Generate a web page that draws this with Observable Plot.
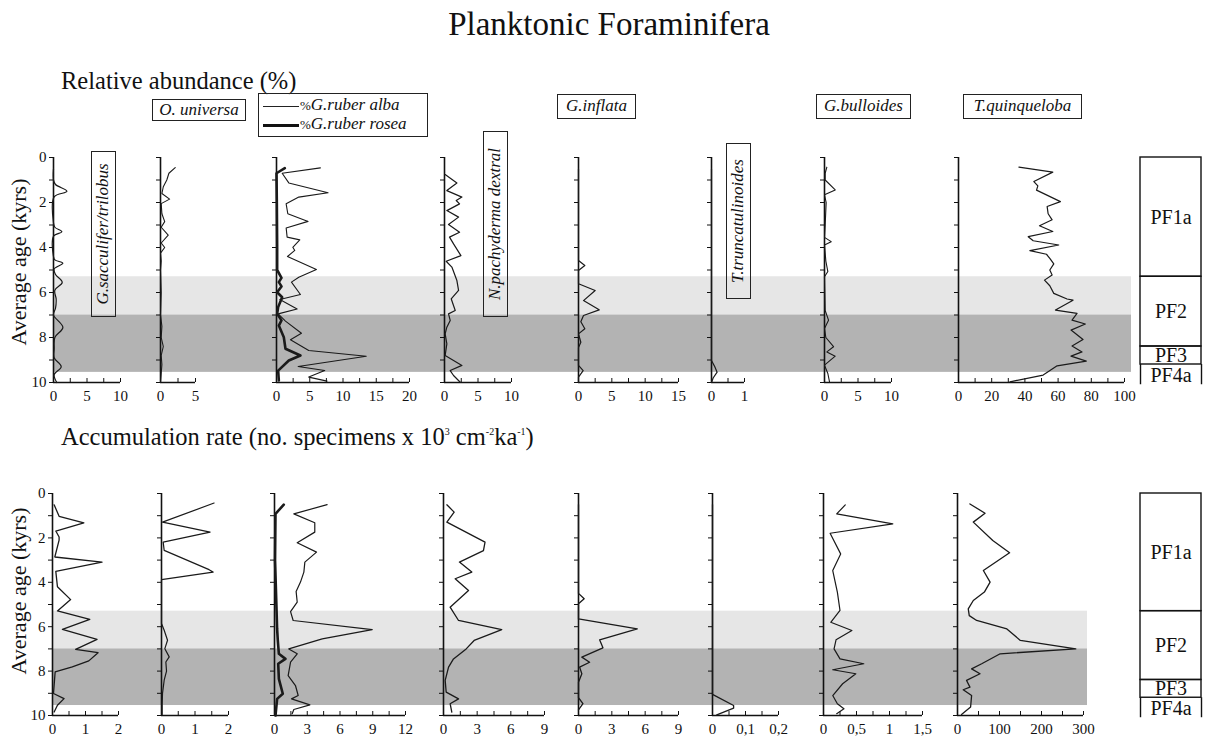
<!DOCTYPE html>
<html><head><meta charset="utf-8">
<script src="https://cdn.jsdelivr.net/npm/d3@7"></script>
<script src="https://cdn.jsdelivr.net/npm/@observablehq/plot@0.6"></script>
<style>
body{margin:0;background:#fff;}
#root{position:relative;width:1208px;height:738px;overflow:hidden;font-family:"Liberation Serif","Times New Roman",Times,Tinos,"DejaVu Serif","Noto Serif",FreeSerif,serif;color:#111;}
.t{position:absolute;white-space:nowrap;}
.box{position:absolute;border:1.3px solid #222;font-style:italic;font-size:17px;white-space:nowrap;box-sizing:border-box;text-align:center;}
.rot{transform-origin:left top;transform:rotate(-90deg);}
sup{font-size:10px;vertical-align:10px;line-height:0;}
</style></head><body><div id="root"></div><script>
// ---------- data: relative abundance (%) ----------
const sacRelAge = [0.5,1.0,1.2,1.5,1.75,2.9,3.1,3.3,3.5,4.4,4.55,4.7,4.95,5.2,5.55,5.9,6.3,6.7,7.0,7.55,8.0,8.5,8.9,9.3,9.65,10];
const sacRelVal = [0,0,0.3,2.0,0.1,0,0.2,1.25,0,0,0.2,1.4,0.1,0.3,1.3,0.2,0.4,0.3,0,1.4,0.2,0.1,0.1,1.15,0.1,0.5];
const uniRelAge = [0.45,0.7,1.0,1.3,1.6,1.85,2.05,2.5,2.85,3.1,3.45,3.8,4.0,4.25,4.6,5,6,7,7.5,8,8.4,8.8,9.2,9.6,10];
const uniRelVal = [2.1,1.2,0.9,0.4,0.2,1.3,0.1,0.2,0.6,0.1,1.1,0.1,0.6,0,0.1,0,0.1,0,0.2,0.1,0.4,0.1,0.2,0.1,0];
const albaRelAge = [0.46,0.70,1.13,1.57,1.76,2.06,2.50,2.84,3.13,3.54,3.66,3.99,4.13,4.40,4.98,5.32,5.54,6.09,6.31,6.73,6.95,7.27,7.81,8.10,8.58,8.83,9.29,9.47,9.76,9.94];
const albaRelVal = [6.6,0.85,1.85,7.75,3.35,1.45,1.7,4.75,1.45,1.6,3.5,2.45,2.75,1.65,6.0,3.35,2.25,3.6,0.5,3.1,0.25,1.35,3.75,2.1,4.85,13.5,3.25,7.25,4.85,7.6];
const roseaRelAge = [0.47,0.70,2,4,5.0,5.35,5.54,5.73,5.99,6.21,6.65,6.95,7.24,7.47,7.99,8.5,8.8,9.02,9.47,9.91];
const roseaRelVal = [1.25,0,0.05,0.1,0.1,0.75,0.35,0.75,0.1,0.85,0.25,0.1,0.75,0.35,1.1,1.35,3.6,1.85,0.25,0.35];
const pachyRelAge = [0.76,1.13,1.47,1.76,1.91,2.06,2.36,2.65,2.98,3.32,3.54,3.84,4.36,4.61,4.87,5.47,5.91,6.28,6.8,6.95,7.24,7.54,7.84,8.28,8.8,9.24,9.47,9.69,9.99];
const pachyRelVal = [0.1,1.85,0.35,2.6,1.75,2.25,0.35,2.1,0.6,2.25,0.75,1.35,2.45,0.25,1.1,1.85,2.1,1.0,1.6,0.6,0.85,0.35,0.1,0.35,0.1,2.6,0.85,1.35,2.35];
const inflRelAge = [0.5,4.58,4.8,5.02,5.61,5.91,6.36,6.77,7.02,7.3,7.61,7.84,8.21,8.45,9.24,9.47,9.76,10];
const inflRelVal = [0,0,0.95,0,0,2.5,0.75,3.1,0.75,0.35,0.95,0,0.35,0,0,0.7,0,0];
const truncRelAge = [0.5,9.02,9.3,9.54,9.8,10];
const truncRelVal = [0,0,0.1,0.17,0.05,0];
const bullRelAge = [0.43,0.7,1.0,1.44,1.66,2.0,3.0,3.55,3.74,3.89,4.6,5.07,5.3,6.8,7.23,7.6,8.0,8.41,8.64,8.83,9.23,9.6,9.97];
const bullRelVal = [0.35,0.1,0.1,1.6,0,0.25,0.1,0,1.0,0,0.2,0.5,0,0.1,0.6,0,0.2,1.35,0.35,1.6,0,0.5,0.75];
const quinRelAge = [0.43,0.65,1.07,1.26,1.45,1.96,2.18,2.5,2.77,3.03,3.29,3.52,3.7,3.89,4.14,4.3,4.48,4.73,5.0,5.22,5.45,5.7,6.04,6.29,6.34,6.78,6.93,7.23,7.40,7.67,8.09,8.38,8.64,8.83,9.05,9.26,9.67,9.97];
const quinRelVal = [36.4,56.8,45.4,47.8,47,61.4,53.4,54,56.4,48.8,56.8,42,45,60.4,43,53,55,57.4,55,56.4,51.8,55,57.4,65.4,69,58.4,71.4,68.4,76.4,67.8,75,68.4,74.4,67.8,77,59.4,51,31];

// ---------- data: accumulation rate ----------
const sacAccAge = [0.51,1.03,1.32,1.69,1.96,2.1,2.86,3.09,3.51,4.2,4.78,5.29,5.67,6.12,6.57,7.02,7.17,7.54,7.81,8.04,9.01,9.24,9.54,9.84];
const sacAccVal = [0.05,0.2,0.95,0.1,0.2,0.2,0.07,1.5,0.1,0.15,0.55,0.15,1.13,0.3,1.35,0.7,1.38,1.1,0.6,0.08,0.03,0.35,0.15,0.05];
const uniAccAge = [0.43,1.29,1.74,2.19,2.56,3.43,3.54,3.88,5.86,6.16,6.61,6.99,7.36,7.59,8.0,8.41,9.01,9.5,9.95];
const uniAccVal = [1.57,0.03,1.45,0.05,0.08,1.42,1.54,0,0,0.08,0.18,0.1,0.23,0.13,0.15,0.08,0.03,0.02,0.02];
const albaAccAge = [0.50,0.92,1.32,1.74,2.22,2.64,3.09,3.54,3.99,4.41,4.89,5.32,5.72,6.13,6.55,7.0,7.22,7.6,8.2,8.65,9.1,9.25,9.52,9.73,9.92];
const albaAccVal = [4.82,1.77,3.69,3.69,2.08,3.85,2.78,2.69,2.38,1.98,2.08,1.47,1.71,8.95,4.37,1.31,2.08,1.47,1.25,1.92,2.17,1.56,3.24,1.77,1.62];
const roseaAccAge = [0.5,0.92,3,6.1,6.6,7.22,7.45,7.67,8.35,9.02,9.25,10];
const roseaAccVal = [0.85,0.09,0.05,0.24,0.3,0.4,1.0,0.34,0.4,0.76,0.24,0.09];
const pachyAccAge = [0.51,0.84,1.29,2.19,2.57,3.09,3.54,3.84,4.37,5.12,5.72,6.13,6.62,7.0,7.45,7.82,8.42,8.95,9.25,9.47,9.85];
const pachyAccVal = [0.3,0.95,0.3,3.7,3.56,1.42,2.52,1.04,2.23,0.59,1.34,5.19,2.73,2.02,0.89,0.45,0.15,0.24,1.34,0.59,0.74];
const inflAccAge = [0.5,4.5,4.74,4.97,5.65,6.1,6.59,6.95,7.37,7.6,7.82,8.12,8.5,9.2,9.47,9.75];
const inflAccVal = [0,0,0.51,0,0,5.29,1.9,2.2,0.3,1.0,0.1,0.3,0,0,0.4,0];
const truncAccAge = [0.5,9.05,9.55,9.67,9.97];
const truncAccVal = [0,0,0.064,0.064,0.013];
const bullAccAge = [0.51,0.92,1.37,1.79,2.72,3.47,4.44,5.27,5.8,6.17,6.59,7.0,7.45,7.67,7.94,8.12,8.57,9.1,9.47,9.7,9.92];
const bullAccVal = [0.33,0.2,1.05,0.1,0.26,0.14,0.21,0.25,0.11,0.43,0.19,0.16,0.25,0.61,0.14,0.49,0.29,0.14,0.21,0.31,0.2];
const quinAccAge = [0.47,0.89,1.29,2.12,2.67,3.47,3.99,4.44,4.82,5.2,5.5,5.72,6.1,6.62,7.0,7.22,7.67,7.9,8.12,8.42,8.72,8.84,9.1,9.62,9.95];
const quinAccVal = [29.6,65.6,37.6,84,124,61.6,77.6,64,37.6,25.6,28,45.6,117.6,149.6,281.6,101.6,57.6,33.6,53.6,21.6,29.6,13.6,33.6,31.2,9.6];

// ---------- axes ----------
const relDomains = [[0,10],[0,5],[0,20],[0,10],[0,15],[0,1],[0,10],[0,100]];
const relTickLabels = [[0,5,10],[0,5],[0,5,10,15,20],[0,5,10],[0,5,10,15],[0,1],[0,5,10],[0,20,40,60,80,100]];
const relMinorStep = [2.5,2.5,2.5,2.5,2.5,0.5,2.5,10];
const accDomains = [[0,2],[0,2],[0,12],[0,9],[0,9],[0,0.2],[0,1.5],[0,300]];
const accTickLabels = [[0,1,2],[0,1,2],[0,3,6,9,12],[0,3,6,9],[0,3,6,9],[0,0.1,0.2],[0,0.5,1,1.5],[0,100,200,300]];
const accMinorStep = [0.5,0.5,1.5,1.5,1.5,0.05,0.25,50];
const ageTicks = [0,1,2,3,4,5,6,7,8,9,10];
const ageLabels = [0,2,4,6,8,10];

// ---------- shaded intervals and zones ----------
const bandFrom = [5.3, 7.0];
const bandTo = [7.0, 9.55];
const bandFill = ["#e6e6e6", "#b3b3b3"];
const zoneNames = ["PF1a","PF2","PF3","PF4a"];
const zoneFrom = [0, 5.3, 8.4, 9.2];
const zoneTo = [5.3, 8.4, 9.2, 10.1];

// ---------- layout ----------
const FONT = '"Liberation Serif","Times New Roman",Times,Tinos,"DejaVu Serif","Noto Serif",FreeSerif,serif';
const root = document.getElementById("root");
const rows = [
  {top:147, yLen:225, bandW:1078, x0:[53,160,276,444,578,711,824,958], len:[67,35,133,67,100,33,67,166],
   domains:relDomains, labels:relTickLabels, steps:relMinorStep,
   series:[[[sacRelAge,sacRelVal,1.2,"catmull-rom"]],[[uniRelAge,uniRelVal,1.1,"linear"]],
           [[albaRelAge,albaRelVal,1.1,"linear"],[roseaRelAge,roseaRelVal,2.6,"linear"]],
           [[pachyRelAge,pachyRelVal,1.2,"linear"]],[[inflRelAge,inflRelVal,1.2,"linear"]],
           [[truncRelAge,truncRelVal,1.2,"linear"]],[[bullRelAge,bullRelVal,1.1,"linear"]],[[quinRelAge,quinRelVal,1.2,"linear"]]]},
  {top:483, yLen:222, bandW:1035, x0:[52,161,274,443,578,712,823,957], len:[66,67,131,101,100,66,99,126],
   domains:accDomains, labels:accTickLabels, steps:accMinorStep,
   series:[[[sacAccAge,sacAccVal,1.3,"linear"]],[[uniAccAge,uniAccVal,1.2,"linear"]],
           [[albaAccAge,albaAccVal,1.2,"linear"],[roseaAccAge,roseaAccVal,2.6,"linear"]],
           [[pachyAccAge,pachyAccVal,1.3,"linear"]],[[inflAccAge,inflAccVal,1.3,"linear"]],
           [[truncAccAge,truncAccVal,1.3,"linear"]],[[bullAccAge,bullAccVal,1.2,"linear"]],[[quinAccAge,quinAccVal,1.3,"linear"]]]}
];
const MT = 10, MB = 30;
const fmt = d => String(+d.toFixed(4)).replace(".", ",");
const place = (el, left, top) => { el.style.position = "absolute"; el.style.left = left + "px"; el.style.top = top + "px"; root.append(el); };

for (const row of rows) {
  // shaded bands
  const bands = bandFrom.map((f, i) => ({from: f, to: bandTo[i], fill: bandFill[i]}));
  place(Plot.plot({
    width: row.bandW, height: MT + row.yLen + MB, margin: 0, marginTop: MT, marginBottom: MB,
    style: {background: "transparent"},
    x: {domain: [0, 1], axis: null}, y: {domain: [0, 10], reverse: true, axis: null},
    color: {type: "identity"},
    marks: [Plot.rect(bands, {x1: 0, x2: 1, y1: "from", y2: "to", fill: "fill"})]
  }), row.x0[0], row.top);

  // panels
  row.x0.forEach((x0, p) => {
    const first = p === 0;
    const mL = first ? 50 : 10, mR = 16;
    const dom = row.domains[p], step = row.steps[p];
    const ticks = d3.range(0, Math.round(dom[1] / step) + 1).map(k => +(k * step).toFixed(5));
    const labs = row.labels[p];
    const isLab = d => labs.some(l => Math.abs(l - d) < 1e-6);
    const marks = [
      Plot.axisY({ticks: ageTicks, tickSize: 4, tickPadding: 3, color: "#111", fontSize: 15,
        tickFormat: first ? (d => ageLabels.includes(d) ? d : "") : (() => ""), label: null}),
      Plot.axisX({ticks, tickSize: -4, tickPadding: 12, color: "#111", fontSize: 15,
        tickFormat: d => isLab(d) ? fmt(d) : "", label: null}),
      Plot.ruleX([0], {stroke: "#111", strokeWidth: 1.6}),
      Plot.ruleY([10], {stroke: "#111", strokeWidth: 1.6})
    ];
    for (const [ages, vals, sw, curve] of row.series[p]) {
      const data = ages.map((a, i) => ({age: a, v: vals[i]}));
      marks.push(Plot.line(data, {x: "v", y: "age", stroke: "#1a1a1a", strokeWidth: sw, curve}));
    }
    place(Plot.plot({
      width: mL + row.len[p] + mR, height: MT + row.yLen + MB,
      marginLeft: mL, marginRight: mR, marginTop: MT, marginBottom: MB,
      style: {fontFamily: FONT, fontSize: "15px", background: "transparent", overflow: "visible"},
      x: {domain: dom}, y: {domain: [0, 10], reverse: true},
      marks
    }), x0 - mL, row.top);
  });

  // zone column
  const zones = zoneNames.map((n, i) => ({name: n, from: zoneFrom[i], to: zoneTo[i]}));
  const boxed = zones.slice(0, 3);
  place(Plot.plot({
    width: 65, height: MT + row.yLen + MB, marginLeft: 2, marginRight: 2, marginTop: MT, marginBottom: MB,
    style: {fontFamily: FONT, background: "transparent", overflow: "visible"},
    x: {domain: [0, 1], axis: null}, y: {domain: [0, 10], reverse: true, axis: null},
    marks: [
      Plot.rect(zones, {x1: 0, x2: 1, y1: "from", y2: "to", fill: "white"}),
      Plot.rect(boxed, {x1: 0, x2: 1, y1: "from", y2: "to", stroke: "#111", strokeWidth: 1.4}),
      Plot.ruleX([0, 1], {y1: zoneFrom[3], y2: zoneTo[3], stroke: "#111", strokeWidth: 1.4}),
      Plot.text(zones, {x: 0.5, y: d => (d.from + Math.min(d.to, 10.1)) / 2 + (d.name === "PF4a" ? 0.05 : 0),
        text: "name", fontSize: 20, fill: "#111"})
    ]
  }), 1138, row.top);
}

// ---------- text ----------
function txt(html, left, top, size, extra = "") {
  const d = document.createElement("div"); d.className = "t"; d.innerHTML = html;
  d.style.cssText += `left:${left}px;top:${top}px;font-size:${size}px;${extra}`; root.append(d); return d;
}
txt("Planktonic Foraminifera", 0, 6, 33, "width:1218px;text-align:center;");
txt("Relative abundance (%)", 61, 67, 24.5);
txt("Accumulation rate (no. specimens x 10<sup>3</sup> cm<sup>-2</sup>ka<sup>-1</sup>)", 61, 423, 24.5);
txt("Average age (kyrs)", 6, 362, 22, "width:200px;text-align:center;transform-origin:left top;transform:rotate(-90deg);");
txt("Average age (kyrs)", 6, 691, 22, "width:200px;text-align:center;transform-origin:left top;transform:rotate(-90deg);");

function box(label, left, top, w, h, rotated) {
  const d = document.createElement("div"); d.className = "box" + (rotated ? " rot" : "");
  d.textContent = label;
  d.style.cssText += `left:${left}px;top:${top}px;width:${w}px;height:${h}px;line-height:${h - 3}px;`;
  root.append(d);
}
box("O. universa", 152, 99, 94, 22);
box("G.inflata", 557, 94, 79, 25);
box("G.bulloides", 816, 94, 95, 25);
box("T.quinqueloba", 963, 94, 119, 25);
box("G.sacculifer/trilobus", 91, 317, 166, 25, true);
box("N.pachyderma dextral", 483, 317, 186, 25, true);
box("T.truncatulinoides", 726, 299, 156, 25, true);

// legend
const lg = document.createElement("div");
lg.style.cssText = "position:absolute;left:258px;top:93px;width:170px;height:44px;border:1.3px solid #222;box-sizing:border-box;font-size:17px;";
lg.innerHTML = `<div style="position:absolute;left:4px;top:12px;width:36px;border-top:1.4px solid #222"></div>
<div style="position:absolute;left:41px;top:0px;white-space:nowrap;line-height:22px"><span style="font-size:13px">%</span><i>G.ruber alba</i></div>
<div style="position:absolute;left:4px;top:30px;width:36px;border-top:3px solid #111"></div>
<div style="position:absolute;left:41px;top:19px;white-space:nowrap;line-height:22px"><span style="font-size:13px">%</span><i>G.ruber rosea</i></div>`;
root.append(lg);
</script></body></html>
